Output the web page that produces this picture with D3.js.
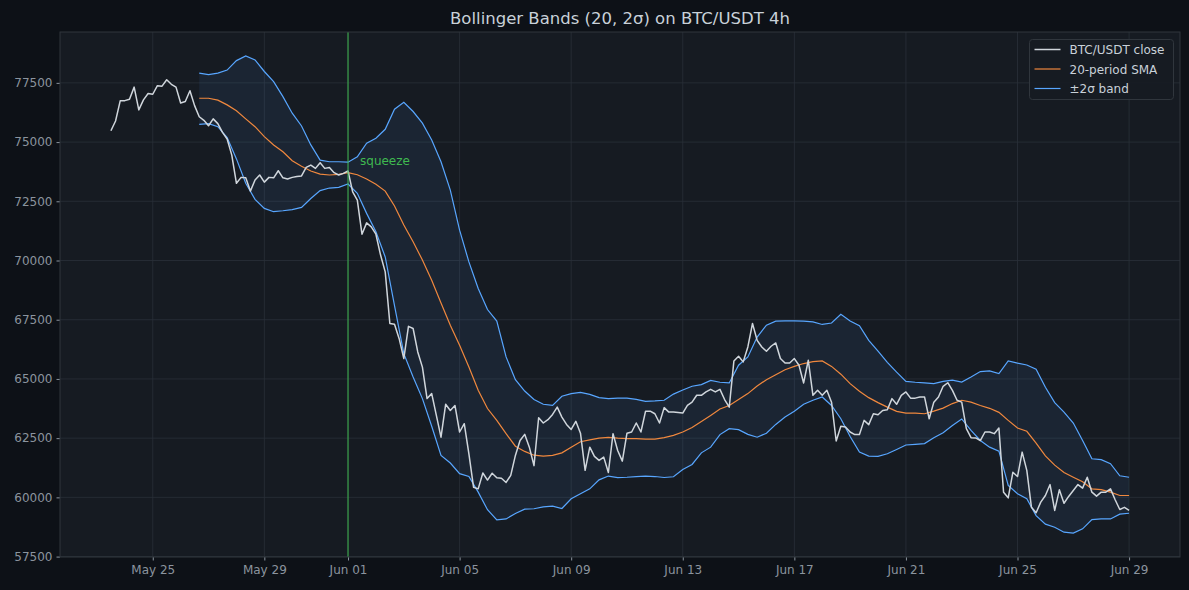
<!DOCTYPE html>
<html>
<head>
<meta charset="utf-8">
<script src="https://cdn.jsdelivr.net/npm/d3@7"></script>
<style>
  html, body { margin: 0; padding: 0; background: #0d1117; }
  svg { display: block; font-family: "DejaVu Sans", sans-serif; }
</style>
</head>
<body>
<div id="chart"></div>
<script>
// BTC/USDT 4h closes, first bar 2024-05-23 12:00 UTC
var closes = [
  75480, 75890, 76740, 76750, 76810, 77320, 76360, 76780, 77050, 77020,
  77380, 77360, 77630, 77440, 77320, 76650, 76710, 77170, 76540, 76070,
  75920, 75690, 75980, 75780, 75410, 75130, 74450, 73260, 73510, 73490,
  72930, 73400, 73610, 73310, 73510, 73490, 73790, 73490, 73440, 73510,
  73550, 73570, 73930, 74030, 73890, 74130, 73890, 73930, 73710, 73610,
  73680, 73780, 72900, 72550, 71110, 71590, 71420, 71110, 70230, 69520,
  67340, 67310, 66700, 65860, 67220, 67130, 66140, 65500, 64170, 64380,
  63460, 62540, 63930, 63670, 63880, 62760, 63110, 61840, 60430, 60360,
  61030, 60730, 61020, 60830, 60810, 60630, 60930, 61770, 62400, 62660,
  62120, 61340, 63360, 63140, 63280, 63500, 63810, 63390, 63080, 62870,
  63210, 62710, 61140, 62120, 61730, 61560, 61700, 61050, 62690, 61980,
  61530, 62710, 62760, 63140, 62760, 63640, 63640, 63530, 63140, 63790,
  63600, 63600, 63580, 63560, 63880, 64020, 64310, 64310, 64450, 64560,
  64450, 64560, 64130, 63810, 65760, 65960, 65720, 66350, 67340, 66630,
  66350, 66170, 66380, 66520, 65860, 65670, 65670, 65860, 65580, 64830,
  65790, 64310, 64520, 64310, 64520, 64020, 62380, 63000, 62970, 62760,
  62650, 62650, 63250, 63070, 63530, 63490, 63670, 63700, 64170, 63930,
  64310, 64450, 64190, 64190, 64240, 64240, 63320, 64020, 64240, 64690,
  64840, 64520, 64100, 64020, 62900, 62520, 62510, 62400, 62760, 62760,
  62690, 62930, 60220, 59980, 61060, 60880, 61910, 61140, 59580, 59350,
  59800, 60080, 60540, 59450, 60320, 59750, 60040, 60290, 60540, 60390,
  60850, 60220, 60050, 60220, 60220, 60360, 59900, 59490, 59580, 59450
];

// band values read every 2nd bar, starting at bar 19
var upper = [
  77910, 77850, 77910, 78040, 78440, 78640, 78470, 77980, 77550, 76920,
  76220, 75680, 74880, 74240, 74170, 74170, 74150, 74380, 74950, 75160,
  75540, 76390, 76680, 76290, 75800, 75090, 74170, 72970, 71280, 69940,
  68820, 67930, 67440, 65930, 64970, 64490, 64130, 63930, 63880, 64270,
  64380, 64430, 64350, 64210, 64170, 64190, 64190, 64140, 64050, 64070,
  64100, 64360, 64530, 64690, 64760, 64940, 64860, 64830, 65580, 65930,
  66770, 67270, 67440, 67450, 67450, 67440, 67410, 67300, 67360, 67730,
  67450, 67250, 66630, 66170, 65700, 65290, 64900, 64860, 64830, 64800,
  64900, 64950, 64870, 65080, 65310, 65340, 65230, 65760, 65670, 65590,
  65410, 64650, 64000, 63600, 63140, 62400, 61630, 61590, 61420, 60910,
  60850
];
var sma = [
  76850, 76850, 76770, 76570, 76320, 75980, 75650, 75230, 74880, 74590,
  74210, 73980, 73780, 73650, 73610, 73640, 73710, 73620, 73440, 73220,
  72930, 72300, 71500, 70790, 70020, 69170, 68210, 67270, 66420, 65500,
  64520, 63750, 63250, 62690, 62160, 61940, 61780, 61740, 61770, 61880,
  62120, 62350, 62430, 62500, 62530, 62500, 62480, 62480, 62460, 62460,
  62520, 62620, 62760, 62950, 63200, 63460, 63730, 63880, 64130, 64380,
  64700, 64970, 65180, 65390, 65530, 65650, 65730, 65760, 65530, 65200,
  64800, 64480, 64210, 64000, 63810, 63630, 63560, 63560, 63530, 63640,
  63770, 63960, 64100, 64020, 63880, 63760, 63590, 63250, 62930, 62790,
  62290, 61750, 61360, 61050, 60850, 60660, 60360, 60330, 60220, 60080,
  60080
];
var lower = [
  75750, 75780, 75650, 75190, 74290, 73260, 72580, 72200, 72060, 72100,
  72150, 72240, 72620, 72950, 73060, 73090, 73230, 72840, 71990, 71210,
  70150, 68100, 66070, 65080, 64170, 63000, 61770, 61450, 61000, 60880,
  60220, 59480, 59050, 59090, 59320, 59500, 59520, 59600, 59630, 59530,
  59940, 60150, 60360, 60740, 60900, 60830, 60850, 60880, 60900, 60880,
  60840, 60870, 61180, 61390, 61880, 62120, 62650, 62900, 62860, 62660,
  62540, 62710, 63080, 63390, 63640, 63930, 64100, 64240, 63880, 63320,
  62570, 61910, 61740, 61730, 61840, 62020, 62210, 62240, 62270, 62520,
  62730, 63030, 63310, 62830, 62400, 62120, 61950, 60500, 60150, 59940,
  59230, 58870, 58740, 58530, 58490, 58670, 59060, 59090, 59090, 59290,
  59330
];

var xTickDates = ['2024-05-25', '2024-05-29', '2024-06-01', '2024-06-05', '2024-06-09',
                  '2024-06-13', '2024-06-17', '2024-06-21', '2024-06-25', '2024-06-29'];
var yTicks = [57500, 60000, 62500, 65000, 67500, 70000, 72500, 75000, 77500];
var squeezeDate = '2024-06-01';
var legendLabels = ['BTC/USDT close', '20-period SMA', '\u00b12\u03c3 band'];

var startTime = Date.UTC(2024, 4, 23, 12);
var bandStart = 19, bandStep = 2;

function barTime(i) { return new Date(startTime + i * 4 * 3600 * 1000); }

var closeData = closes.map(function(v, i) { return {t: barTime(i), v: v}; });
var bandData = upper.map(function(u, k) {
    return {t: barTime(bandStart + k * bandStep), up: u, mid: sma[k], lo: lower[k]};
});

var W = 1189, H = 590;
var margin = {left: 60, right: 9, top: 32, bottom: 33};

var svg = d3.select('#chart').append('svg')
    .attr('width', W).attr('height', H);

svg.append('rect').attr('width', W).attr('height', H).attr('fill', '#0d1117');

// 5% padding like matplotlib
var tExt = d3.extent(closeData, function(d) { return d.t; });
var tPad = (tExt[1] - tExt[0]) * 0.05;
var x = d3.scaleUtc()
    .domain([new Date(+tExt[0] - tPad), new Date(+tExt[1] + tPad)])
    .range([margin.left, W - margin.right]);

var vMin = d3.min([d3.min(closes), d3.min(lower)]);
var vMax = d3.max([d3.max(closes), d3.max(upper)]);
var vPad = (vMax - vMin) * 0.05;
var y = d3.scaleLinear()
    .domain([vMin - vPad, vMax + vPad])
    .range([H - margin.bottom, margin.top]);

var pw = W - margin.left - margin.right, ph = H - margin.top - margin.bottom;

svg.append('rect')
    .attr('x', margin.left).attr('y', margin.top)
    .attr('width', pw).attr('height', ph)
    .attr('fill', '#161b22');

var xTicks = xTickDates.map(function(s) { return new Date(s + 'T00:00:00Z'); });

// grid
var grid = svg.append('g').attr('stroke', '#2a3038').attr('stroke-width', 0.8);
grid.selectAll('line.gx').data(xTicks).enter().append('line')
    .attr('x1', function(d) { return x(d); }).attr('x2', function(d) { return x(d); })
    .attr('y1', margin.top).attr('y2', H - margin.bottom);
grid.selectAll('line.gy').data(yTicks).enter().append('line')
    .attr('y1', function(d) { return y(d); }).attr('y2', function(d) { return y(d); })
    .attr('x1', margin.left).attr('x2', W - margin.right);

svg.append('clipPath').attr('id', 'clip').append('rect')
    .attr('x', margin.left).attr('y', margin.top).attr('width', pw).attr('height', ph);

var plot = svg.append('g').attr('clip-path', 'url(#clip)');

// band fill
plot.append('path')
    .datum(bandData)
    .attr('d', d3.area()
        .x(function(d) { return x(d.t); })
        .y0(function(d) { return y(d.lo); })
        .y1(function(d) { return y(d.up); }))
    .attr('fill', '#58a6ff').attr('fill-opacity', 0.08);

function lineOf(key) {
    return d3.line().x(function(d) { return x(d.t); }).y(function(d) { return y(d[key]); });
}

plot.append('path').datum(bandData).attr('d', lineOf('up'))
    .attr('fill', 'none').attr('stroke', '#58a6ff').attr('stroke-width', 1.2);
plot.append('path').datum(bandData).attr('d', lineOf('lo'))
    .attr('fill', 'none').attr('stroke', '#58a6ff').attr('stroke-width', 1.2);
plot.append('path').datum(bandData).attr('d', lineOf('mid'))
    .attr('fill', 'none').attr('stroke', '#f0883e').attr('stroke-width', 1.2);

plot.append('path').datum(closeData).attr('d', lineOf('v'))
    .attr('fill', 'none').attr('stroke', '#d0d6dc').attr('stroke-width', 1.5)
    .attr('stroke-linejoin', 'round');

// squeeze marker
var sq = new Date(squeezeDate + 'T00:00:00Z');
plot.append('line')
    .attr('x1', x(sq)).attr('x2', x(sq))
    .attr('y1', margin.top).attr('y2', H - margin.bottom)
    .attr('stroke', '#3fb950').attr('stroke-width', 1);
svg.append('text')
    .attr('x', x(sq) + 12).attr('y', y(74200) + 4)
    .attr('fill', '#3fb950').attr('font-size', '12px')
    .text('squeeze');

// axes
var xAxis = d3.axisBottom(x).tickValues(xTicks)
    .tickFormat(d3.utcFormat('%b %d')).tickSize(3.5).tickPadding(5);
var yAxis = d3.axisLeft(y).tickValues(yTicks)
    .tickFormat(d3.format('d')).tickSize(3.5).tickPadding(4);

var gx = svg.append('g').attr('transform', 'translate(0,' + (H - margin.bottom) + ')').call(xAxis);
var gy = svg.append('g').attr('transform', 'translate(' + margin.left + ',0)').call(yAxis);
[gx, gy].forEach(function(g) {
    g.select('.domain').remove();
    g.selectAll('line').attr('stroke', '#8b949e');
    g.selectAll('text').attr('fill', '#8b949e').attr('font-size', '12px')
        .attr('font-family', '"DejaVu Sans", sans-serif');
});

// frame
svg.append('rect')
    .attr('x', margin.left).attr('y', margin.top)
    .attr('width', pw).attr('height', ph)
    .attr('fill', 'none').attr('stroke', '#30363d').attr('stroke-width', 1);

// title
svg.append('text')
    .attr('x', margin.left + pw / 2).attr('y', 24)
    .attr('text-anchor', 'middle')
    .attr('fill', '#c9d1d9').attr('font-size', '16.5px')
    .text('Bollinger Bands (20, 2\u03c3) on BTC/USDT 4h');

// legend
var legColors = ['#d0d6dc', '#f0883e', '#58a6ff'];
var leg = svg.append('g').attr('transform', 'translate(1029.5,39.5)');
leg.append('rect')
    .attr('width', 144).attr('height', 60).attr('rx', 3)
    .attr('fill', '#161b22').attr('fill-opacity', 0.85)
    .attr('stroke', '#30363d');
legendLabels.forEach(function(lab, i) {
    var yy = 10 + i * 19.5;
    leg.append('line').attr('x1', 5).attr('x2', 31).attr('y1', yy).attr('y2', yy)
        .attr('stroke', legColors[i]).attr('stroke-width', i == 0 ? 1.5 : 1.2);
    leg.append('text').attr('x', 40).attr('y', yy + 4.5)
        .attr('fill', '#c9d1d9').attr('font-size', '12px').text(lab);
});
</script>
</body>
</html>
